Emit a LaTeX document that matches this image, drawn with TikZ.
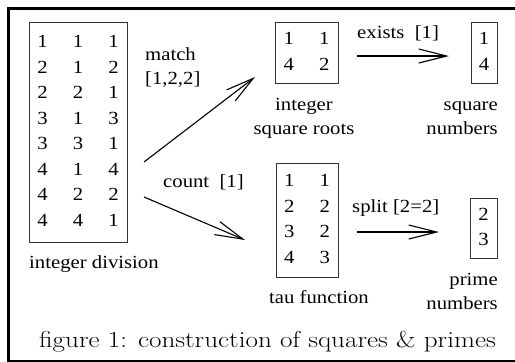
\documentclass[tikz,border=0pt]{standalone}
\usepackage{fontspec}
\setmainfont[FakeStretch=1.12]{Liberation Serif}
\newfontfamily\capfont[FakeStretch=1.18]{Latin Modern Roman}
\usetikzlibrary{arrows.meta}
\definecolor{boxGray}{HTML}{333333}
\renewcommand{\arraystretch}{1.15}
\newcommand{\colgap}{@{\hspace{25.2pt}}}

\tikzset{
  tablebox/.style={draw=boxGray, line width=0.9pt, inner sep=0pt,
    font=\fontsize{18.5}{22.2}\selectfont},
  lbl/.style={inner sep=0pt, font=\fontsize{18.5}{24}\selectfont},
  relarrow/.style={line width=1.1pt, -{Straight Barb[length=28pt, width=14pt, line width=1.1pt]}}
}

\begin{document}
\begin{tikzpicture}[x=1pt, y=-1pt]
  \useasboundingbox (0,0) rectangle (515,362);
  % frame
  \draw[line width=2.8pt] (8.7,8.7) rectangle (530,361);

  % tables
  \node[tablebox, minimum width=98pt, minimum height=220pt] (div) at (78,132)
    {\begin{tabular}{@{}c\colgap c\colgap c@{}}
      1&1&1\\ 2&1&2\\ 2&2&1\\ 3&1&3\\ 3&3&1\\ 4&1&4\\ 4&2&2\\ 4&4&1
    \end{tabular}};
  \node[tablebox, minimum width=63pt, minimum height=61pt] (roots) at (306.5,52.5)
    {\begin{tabular}{@{}c\colgap c@{}} 1&1\\ 4&2 \end{tabular}};
  \node[tablebox, minimum width=26pt, minimum height=61pt] (squares) at (484,52.5)
    {\begin{tabular}{@{}c@{}} 1\\ 4 \end{tabular}};
  \node[tablebox, minimum width=62pt, minimum height=114pt] (tau) at (307,220)
    {\begin{tabular}{@{}c\colgap c@{}} 1&1\\ 2&2\\ 3&2\\ 4&3 \end{tabular}};
  \node[tablebox, minimum width=27pt, minimum height=60pt] (primes) at (483.5,228)
    {\begin{tabular}{@{}c@{}} 2\\ 3 \end{tabular}};

  % table captions
  \node[lbl, anchor=base west] (divlbl) at (29,268) {integer division};
  \node[lbl, align=center] (rootslbl) at (304,118) {integer\\square roots};
  \node[lbl, align=right, anchor=east] (squareslbl) at (498,118) {square\\numbers};
  \node[lbl, anchor=base] (taulbl) at (319,303) {tau function};
  \node[lbl, align=right, anchor=east] (primeslbl) at (498,291.5) {prime\\numbers};

  % operations
  \coordinate (matchA) at (144,162);
  \coordinate (matchB) at (255,77);
  \coordinate (countA) at (144,197);
  \coordinate (countB) at (245,240);
  \coordinate (existsA) at (357,56);
  \coordinate (existsB) at (449,56);
  \coordinate (splitA) at (357,232);
  \coordinate (splitB) at (439,232);
  \draw[relarrow] (matchA) -- (matchB);
  \draw[relarrow] (countA) -- (countB);
  \draw[relarrow] (existsA) -- (existsB);
  \draw[relarrow] (splitA) -- (splitB);
  \node[lbl, align=left, anchor=base west] (matchlbl) at (145,84) {match\\{}[1,2,2]};
  \node[lbl, anchor=base west] (countlbl) at (163,187) {count\ \ [1]};
  \node[lbl, anchor=base west] (existslbl) at (357,38) {exists\ \ [1]};
  \node[lbl, anchor=base west] (splitlbl) at (352,212) {split\ [2=2]};

  % figure caption
  \node[inner sep=0pt, anchor=base west, font=\capfont\fontsize{23}{27}\selectfont] (caption)
    at (39,347) {figure 1: construction of squares \& primes};
\end{tikzpicture}
\end{document}
